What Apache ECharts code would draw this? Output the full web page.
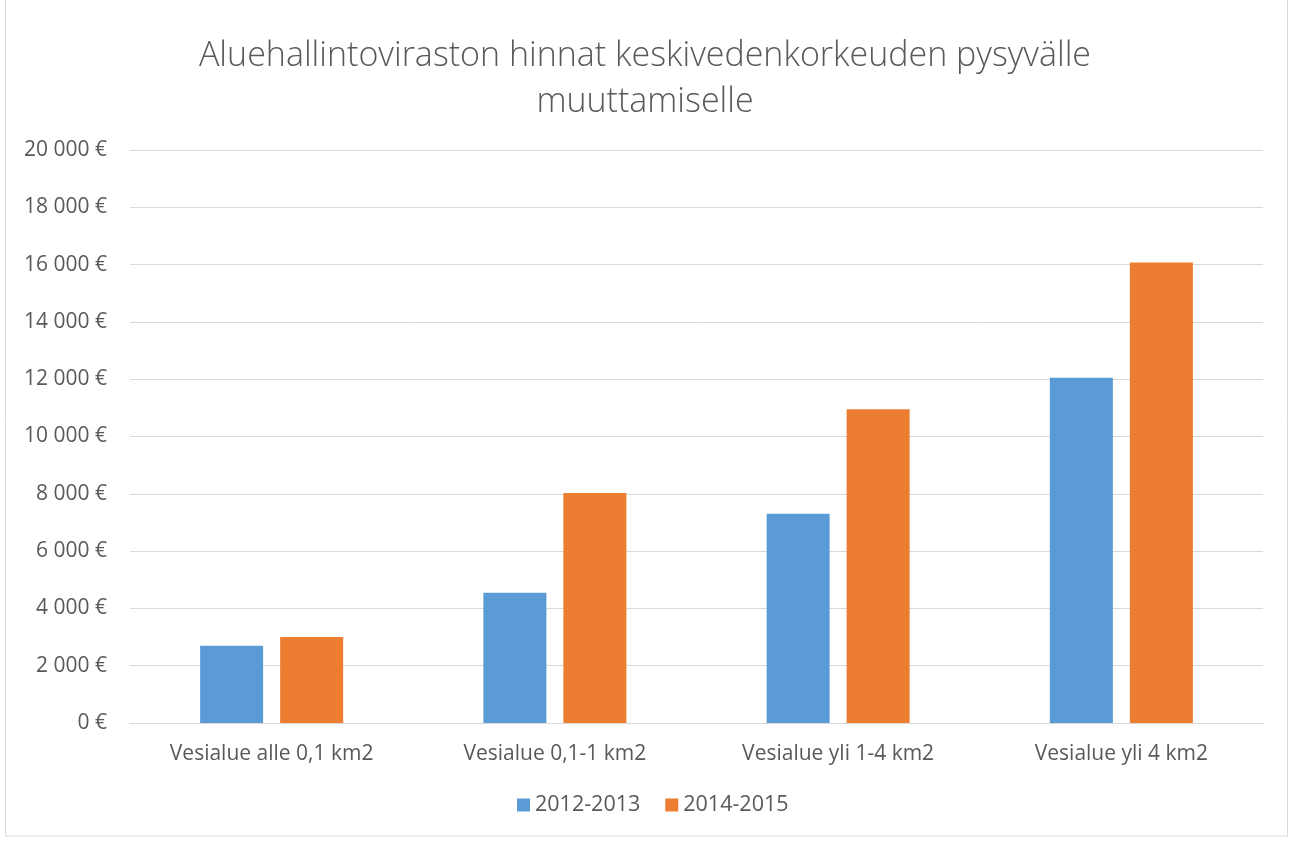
<!DOCTYPE html>
<html>
<head>
<meta charset="utf-8">
<script src="https://cdn.jsdelivr.net/npm/echarts@6/dist/echarts.min.js"></script>
<style>
html,body{margin:0;padding:0;background:#fff;}
#c{width:1290px;height:841px;}
</style>
</head>
<body>
<div id="c"></div>
<script>
const categories = ["Vesialue alle 0,1 km2", "Vesialue 0,1-1 km2", "Vesialue yli 1-4 km2", "Vesialue yli 4 km2"];
const series2012 = [2700, 4550, 7300, 12050];
const series2014 = [3000, 8030, 10950, 16070];
const seriesNames = ["2012-2013", "2014-2015"];
const titleText = "Aluehallintoviraston hinnat keskivedenkorkeuden pysyvälle\nmuuttamiselle";

const fmt = v => {
  const s = String(Math.round(v));
  return s.replace(/\B(?=(\d{3})+(?!\d))/g, " ") + " €";
};

const chart = echarts.init(document.getElementById('c'));
const font = "Open Sans";
chart.setOption({
  backgroundColor: '#fff',
  animation: false,
  graphic: [{
    type: 'rect', shape: {x: 5.5, y: -2, width: 1282, height: 838},
    style: {fill: 'none', stroke: '#d9d9d9', lineWidth: 1}, silent: true
  }],
  title: {
    text: titleText, left: 'center', top: 28,
    textStyle: {fontFamily: font, fontSize: 34, fontWeight: 300, color: '#595959', lineHeight: 46}
  },
  legend: {
    data: seriesNames, bottom: 20, left: 512, itemWidth: 13, itemHeight: 13, itemGap: 25,
    icon: 'rect',
    textStyle: {fontFamily: font, fontSize: 21.5, color: '#595959'}
  },
  grid: {left: 130, right: 27, top: 150, bottom: 118, containLabel: false},
  xAxis: {
    type: 'category', data: categories,
    axisLine: {lineStyle: {color: '#d9d9d9', width: 1}},
    axisTick: {show: false},
    axisLabel: {fontFamily: font, fontSize: 21, color: '#595959', margin: 21}
  },
  yAxis: {
    type: 'value', min: 0, max: 20000, interval: 2000,
    axisLine: {show: false}, axisTick: {show: false},
    splitLine: {lineStyle: {color: '#d9d9d9', width: 1}},
    axisLabel: {fontFamily: font, fontSize: 21, color: '#595959', margin: 23, formatter: fmt}
  },
  series: [
    {name: seriesNames[0], type: 'bar', data: series2012, barWidth: 63, barGap: '27%',
     itemStyle: {color: '#5B9BD5'}},
    {name: seriesNames[1], type: 'bar', data: series2014, barWidth: 63,
     itemStyle: {color: '#ED7D31'}}
  ]
});
</script>
</body>
</html>
